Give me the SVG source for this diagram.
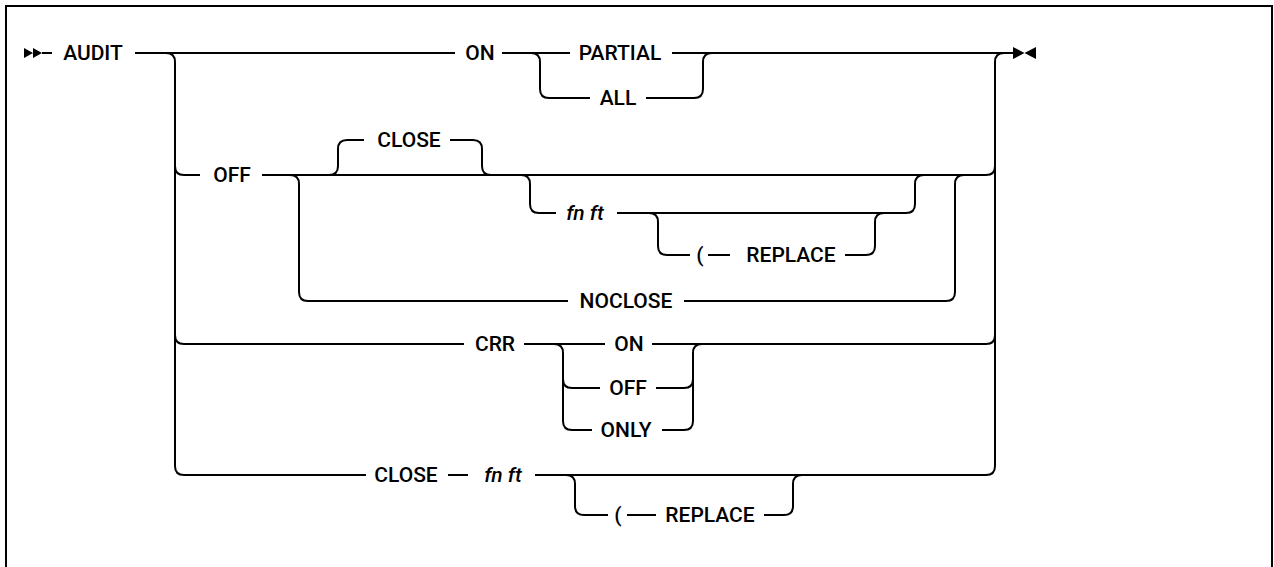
<svg xmlns="http://www.w3.org/2000/svg" width="1274" height="567" viewBox="0 0 1274 567">
<style>
.ln{fill:none;stroke:#000;stroke-width:2;stroke-linecap:butt}
.t{font-family:Roboto,"Liberation Sans",Arial,sans-serif;font-size:21px;font-weight:500;fill:#000;text-anchor:middle}
.v{font-style:italic}
.mk{fill:#000}
</style>
<rect x="0" y="0" width="1274" height="567" fill="#fff"/>
<path class="ln" d="M6,580 V6 H1272 V580"/>
<g id="connectors">
<path class="mk" d="M24,48 L33,53 L24,58 Z M33,48 L42,53 L33,58 Z"/>
<path class="mk" d="M1013,47 L1024.5,53 L1013,59 Z M1036,47 L1024.5,53 L1036,59 Z"/>
<path class="ln" d="M42,53 H52 M135,53 H455 M502,53 H570 M672,53 H1013"/>
<path class="ln" d="M166,53 Q175,53 175,62 V466 Q175,475 184,475 M175,166 Q175,175 184,175 M175,335 Q175,344 184,344"/>
<path class="ln" d="M986,475 Q995,475 995,466 V62 Q995,53 1004,53 M986,175 Q995,175 995,166 M986,344 Q995,344 995,335"/>
<path class="ln" d="M531,53 Q540,53 540,62 V89 Q540,98 549,98 H590 M646,98 H694 Q703,98 703,89 V62 Q703,53 712,53"/>
<path class="ln" d="M184,175 H200 M262,175 H986"/>
<path class="ln" d="M290,175 Q299,175 299,184 V292 Q299,301 308,301 H568 M684,301 H946 Q955,301 955,292 V184 Q955,175 964,175"/>
<path class="ln" d="M329,175 Q338,175 338,166 V149 Q338,140 347,140 H364 M450,140 H473 Q482,140 482,149 V166 Q482,175 491,175"/>
<path class="ln" d="M521,175 Q530,175 530,184 V204 Q530,213 539,213 H556 M617,213 H906 Q915,213 915,204 V184 Q915,175 924,175"/>
<path class="ln" d="M649,213 Q658,213 658,222 V246 Q658,255 667,255 H690 M708,255 H730 M845,255 H866 Q875,255 875,246 V222 Q875,213 884,213"/>
<path class="ln" d="M184,344 H464 M524,344 H605 M652,344 H986"/>
<path class="ln" d="M554,344 Q563,344 563,353 V421 Q563,430 572,430 H592 M563,379 Q563,388 572,388 H600 M656,388 H684 Q693,388 693,379 M662,430 H684 Q693,430 693,421 V353 Q693,344 702,344"/>
<path class="ln" d="M184,475 H366 M448,475 H468 M535,475 H986"/>
<path class="ln" d="M566,475 Q575,475 575,484 V506 Q575,515 584,515 H608 M627,515 H656 M764,515 H784 Q793,515 793,506 V484 Q793,475 802,475"/>
</g>
<g id="audit"><text class="t" x="93" y="60">AUDIT</text></g>
<g id="on"><text class="t" x="480" y="60">ON</text></g>
<g id="partial"><text class="t" x="620" y="60">PARTIAL</text></g>
<g id="all"><text class="t" x="618" y="105">ALL</text></g>
<g id="off"><text class="t" x="232" y="182">OFF</text></g>
<g id="close-default"><text class="t" x="409" y="147">CLOSE</text></g>
<g id="fnft1"><text class="t v" x="585" y="220">fn ft</text></g>
<g id="paren1"><text class="t" x="700" y="262">(</text></g>
<g id="replace1"><text class="t" x="791" y="262">REPLACE</text></g>
<g id="noclose"><text class="t" x="626" y="308">NOCLOSE</text></g>
<g id="crr"><text class="t" x="495" y="351">CRR</text></g>
<g id="crr-on"><text class="t" x="629" y="351">ON</text></g>
<g id="crr-off"><text class="t" x="628" y="395">OFF</text></g>
<g id="crr-only"><text class="t" x="626" y="437">ONLY</text></g>
<g id="close2"><text class="t" x="406" y="482">CLOSE</text></g>
<g id="fnft2"><text class="t v" x="503" y="482">fn ft</text></g>
<g id="paren2"><text class="t" x="618" y="522">(</text></g>
<g id="replace2"><text class="t" x="710" y="522">REPLACE</text></g>
</svg>
